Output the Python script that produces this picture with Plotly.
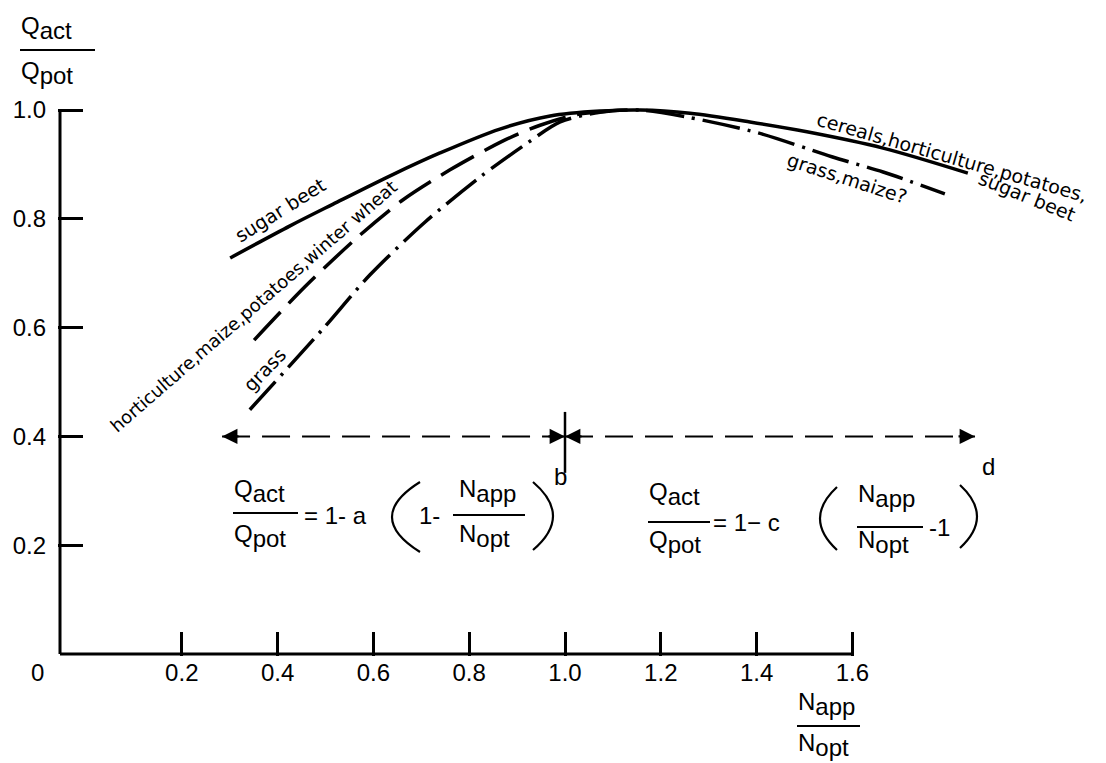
import plotly.graph_objects as go

# ---------------- data ----------------
x_ticks = [0.2, 0.4, 0.6, 0.8, 1.0, 1.2, 1.4, 1.6]
x_tick_labels = ["0.2", "0.4", "0.6", "0.8", "1.0", "1.2", "1.4", "1.6"]
y_ticks = [0.2, 0.4, 0.6, 0.8, 1.0]
y_tick_labels = ["0.2", "0.4", "0.6", "0.8", "1.0"]

# solid: sugar beet (left) -> cereals, horticulture, potatoes, sugar beet (right)
solid_x = [0.301, 0.426, 0.516, 0.635, 0.739, 0.864, 0.969, 1.073, 1.157, 1.261,
           1.386, 1.505, 1.664, 1.841]
solid_y = [0.728, 0.787, 0.827, 0.879, 0.921, 0.965, 0.989, 0.998, 1.000, 0.994,
           0.978, 0.960, 0.930, 0.884]

# long dash: horticulture, maize, potatoes, winter wheat
hort_x = [0.351, 0.457, 0.568, 0.662, 0.760, 0.875, 0.948, 1.021, 1.094]
hort_y = [0.577, 0.675, 0.767, 0.835, 0.890, 0.945, 0.972, 0.991, 0.998]

# dash-dot: grass (left) -> grass, maize? (right)
grass_x = [0.342, 0.493, 0.593, 0.708, 0.823, 0.921, 0.990, 1.073, 1.157, 1.255,
           1.403, 1.557, 1.664, 1.793]
grass_y = [0.449, 0.596, 0.697, 0.794, 0.877, 0.939, 0.978, 0.996, 1.000, 0.987,
           0.958, 0.914, 0.886, 0.846]

# double arrows at Q/Q = 0.4, split at N/N = 1.0
arrow_y = 0.4
arrow_left = [0.284, 1.0]
arrow_right = [1.0, 1.856]
cross_y = [0.333, 0.445]

# ---------------- geometry helpers (layout only) ----------------
W, H = 1106, 763
L, R, T, B = 58, 1100, 8, 656
PW, PH = R - L, B - T
X0PX, XSC = 86.0, 479.0      # pixel of x=0, pixels per unit
Y0PX, YSC = 654.0, 544.0     # pixel of y=0, pixels per unit


def dx(px):
    return (px - X0PX) / XSC


def dy(py):
    return (Y0PX - py) / YSC


def ppx(px):
    return (px - L) / PW


def ppy(py):
    return (B - py) / PH


FONT = "Liberation Sans, Arial, sans-serif"
LFONT = "DejaVu Sans, sans-serif"

fig = go.Figure()

fig.add_trace(go.Scatter(x=solid_x, y=solid_y, mode="lines",
                         line=dict(color="black", width=3.5, shape="spline", smoothing=0.9),
                         showlegend=False, hoverinfo="skip"))
fig.add_trace(go.Scatter(x=hort_x, y=hort_y, mode="lines",
                         line=dict(color="black", width=3.5, shape="spline", smoothing=0.8,
                                   dash="38px,12px"),
                         showlegend=False, hoverinfo="skip"))
fig.add_trace(go.Scatter(x=grass_x, y=grass_y, mode="lines",
                         line=dict(color="black", width=3.5, shape="spline", smoothing=0.8,
                                   dash="38px,8px,3px,8px"),
                         showlegend=False, hoverinfo="skip"))

shapes = []
# axis lines
shapes.append(dict(type="line", xref="x", yref="y", x0=dx(60), x1=1.6, y0=0, y1=0,
                   line=dict(color="black", width=3)))
shapes.append(dict(type="line", xref="x", yref="y", x0=dx(60), x1=dx(60), y0=0, y1=1.0,
                   line=dict(color="black", width=3)))
# dashed arrow lines
for seg in (arrow_left, arrow_right):
    shapes.append(dict(type="line", xref="x", yref="y", x0=seg[0], x1=seg[1],
                       y0=arrow_y, y1=arrow_y,
                       line=dict(color="black", width=2, dash="28px,12px")))
# cross at 1.0
shapes.append(dict(type="line", xref="x", yref="y", x0=1.0, x1=1.0,
                   y0=cross_y[0], y1=cross_y[1], line=dict(color="black", width=2.5)))


def bar(x0, x1, y):
    shapes.append(dict(type="line", xref="paper", yref="paper",
                       x0=ppx(x0), x1=ppx(x1), y0=ppy(y), y1=ppy(y),
                       line=dict(color="black", width=2.2)))


def paren(xe, ytop, ybot, xc):
    ym = (ytop + ybot) / 2
    path = "M {:.5f},{:.5f} Q {:.5f},{:.5f} {:.5f},{:.5f}".format(
        ppx(xe), ppy(ytop), ppx(xc), ppy(ym), ppx(xe), ppy(ybot))
    shapes.append(dict(type="path", xref="paper", yref="paper", path=path,
                       line=dict(color="black", width=2.2)))


# fraction bars
bar(20, 95, 50)
bar(797, 860, 726)
bar(233, 298, 513)
bar(453, 525, 515)
bar(648, 710, 522)
bar(857, 923, 527)
# parentheses
paren(420, 482, 552, 364)
paren(533, 482, 550, 573)
paren(837, 487, 550, 803)
paren(960, 485, 548, 994)

ann = []


def txt(text, px, py, size=24, xanchor="left", font=FONT, angle=0):
    ann.append(dict(text=text, x=ppx(px), y=ppy(py), xref="paper", yref="paper",
                    xanchor=xanchor, yanchor="middle", showarrow=False, textangle=angle,
                    font=dict(family=font, size=size, color="black")))


def sub(main, s):
    return main + '<sub><span style="font-size:24px">' + s + '</span></sub>'


# axis titles
txt(sub("Q", "act"), 19, 28)
txt(sub("Q", "pot"), 19, 73)
txt(sub("N", "app"), 796, 704)
txt(sub("N", "opt"), 796, 745)
txt("0", 37, 672, size=24, xanchor="center")

# left equation
txt(sub("Q", "act"), 232, 491)
txt(sub("Q", "pot"), 232, 536)
txt("= 1- a", 302, 515)
txt("1-", 417, 515)
txt(sub("N", "app"), 457, 491)
txt(sub("N", "opt"), 457, 536)
txt("b", 552, 476)

# right equation
txt(sub("Q", "act"), 647, 494)
txt(sub("Q", "pot"), 647, 542)
txt("= 1− c", 711, 522)
txt(sub("N", "app"), 856, 496)
txt("-1", 927, 527)
txt(sub("N", "opt"), 856, 542)
txt("d", 980, 466)

# curve labels
txt("sugar beet", 280, 210, size=19, xanchor="center", font=LFONT, angle=-32)
txt("horticulture,maize,potatoes,winter wheat", 253, 306, size=18, xanchor="center",
    font=LFONT, angle=-41)
txt("grass", 264, 370, size=19, xanchor="center", font=LFONT, angle=-46)
txt("cereals,horticulture,potatoes,", 952, 157, size=19, xanchor="center", font=LFONT, angle=16)
txt("sugar beet", 1027, 196, size=19, xanchor="center", font=LFONT, angle=22)
txt("grass,maize?", 847, 178, size=19, xanchor="center", font=LFONT, angle=18)

# arrow heads
for xh, off in ((arrow_left[0], 18), (arrow_left[1], -18), (arrow_right[0], 18), (arrow_right[1], -18)):
    ann.append(dict(x=xh, y=arrow_y, xref="x", yref="y", ax=off, ay=0, text="",
                    showarrow=True, arrowhead=2, arrowsize=1.4, arrowwidth=2.2,
                    arrowcolor="black", standoff=0))

fig.update_layout(
    width=W, height=H, autosize=False,
    margin=dict(l=L, r=W - R, t=T, b=H - B, pad=0),
    paper_bgcolor="white", plot_bgcolor="white",
    shapes=shapes, annotations=ann,
    xaxis=dict(range=[dx(L), dx(R)], showgrid=False, zeroline=False, showline=False,
               ticks="inside", ticklen=24, tickwidth=3, tickcolor="black",
               tickvals=x_ticks, ticktext=x_tick_labels, automargin=False,
               tickfont=dict(family=FONT, size=24, color="black"), ticklabelstandoff=0),
    yaxis=dict(range=[dy(B), dy(T)], showgrid=False, zeroline=False, showline=False,
               ticks="inside", ticklen=25, tickwidth=3, tickcolor="black",
               tickvals=y_ticks, ticktext=y_tick_labels, automargin=False,
               tickfont=dict(family=FONT, size=24, color="black"), ticklabelstandoff=11),
    showlegend=False,
)

fig.write_html("out.html", config={"displayModeBar": False},
               post_script="document.body.style.margin='0px';"
                           "document.body.style.overflow='hidden';")
